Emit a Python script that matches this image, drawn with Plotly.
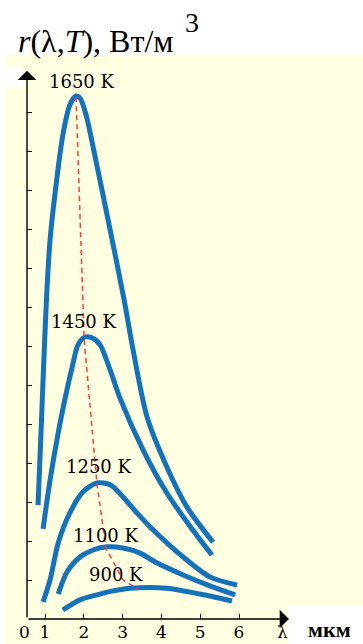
import plotly.graph_objects as go

# curves: wavelength in um, r in tick units (arbitrary)
lam_1650 = [0.82, 0.90, 0.97, 1.05, 1.13, 1.26, 1.46, 1.64, 1.80, 1.90, 2.06, 2.24, 2.68, 3.04, 3.27, 3.63, 4.14, 4.66, 5.33]
r_1650 = [2.92, 4.85, 6.64, 8.44, 9.72, 10.92, 12.41, 13.18, 13.41, 13.36, 12.92, 12.10, 9.97, 8.18, 6.90, 5.18, 3.90, 2.87, 1.97]

lam_1450 = [0.95, 1.13, 1.34, 1.52, 1.70, 1.85, 2.03, 2.21, 2.42, 2.68, 2.93, 3.53, 4.14, 4.81, 5.30]
r_1450 = [2.31, 3.56, 4.77, 5.67, 6.46, 7.03, 7.23, 7.21, 7.03, 6.38, 5.67, 4.33, 3.23, 2.28, 1.64]

lam_1250 = [0.95, 1.13, 1.34, 1.64, 1.98, 2.34, 2.68, 3.01, 3.37, 3.71, 4.56, 5.25, 5.95]
r_1250 = [0.44, 1.00, 1.95, 2.72, 3.26, 3.49, 3.44, 3.13, 2.72, 2.36, 1.59, 1.08, 0.87]

lam_1100 = [1.34, 1.57, 1.90, 2.24, 2.60, 3.01, 3.45, 3.84, 4.56, 5.25, 5.90]
r_1100 = [0.64, 1.21, 1.59, 1.77, 1.85, 1.82, 1.69, 1.46, 1.13, 0.85, 0.62]

lam_900 = [1.46, 1.90, 2.34, 2.75, 3.19, 4.14, 4.99, 5.82]
r_900 = [0.23, 0.49, 0.62, 0.72, 0.79, 0.79, 0.64, 0.46]

# Wien displacement line through the maxima
lam_max = [1.80, 2.01, 2.34, 2.57, 3.01, 3.40]
r_max = [13.38, 7.15, 3.46, 1.82, 1.00, 0.77]

# curve labels
temp_labels = ["1650 K", "1450 K", "1250 K", "1100 K", "900 K"]
label_lam = [1.95, 2.01, 2.39, 2.57, 2.83]
label_r = [13.79, 7.62, 3.90, 2.15, 1.13]

x_ticks = [1, 2, 3, 4, 5, 6]
y_ticks = list(range(1, 14))

cream = "#FFFEE0"
blue = "#1472BA"
serif = "DejaVu Serif, Liberation Serif, serif"
times = "Liberation Serif, Times New Roman, serif"

fig = go.Figure()

curves = [(lam_1650, r_1650), (lam_1450, r_1450), (lam_1250, r_1250), (lam_1100, r_1100), (lam_900, r_900)]
for lam, r in curves:
    fig.add_trace(go.Scatter(x=lam, y=r, mode="lines",
                             line=dict(color=blue, width=5, shape="spline", smoothing=0.8),
                             hoverinfo="skip"))

fig.add_trace(go.Scatter(x=lam_max, y=r_max, mode="lines",
                         line=dict(color="#FF3B3B", width=1.5, dash="5px,4px"),
                         hoverinfo="skip"))

for txt, lx, ly in zip(temp_labels, label_lam, label_r):
    fig.add_annotation(x=lx, y=ly, text=txt, showarrow=False,
                       font=dict(family=serif, size=18, color="black"))

# axes with arrows
fig.add_annotation(x=0, y=1.004, xref="paper", yref="paper", ax=0, ay=548, text="",
                   showarrow=True, arrowhead=1, arrowsize=2.2, arrowwidth=1.4, arrowcolor="black")
fig.add_annotation(x=0.996, y=0, xref="paper", yref="paper", ax=-262, ay=0, text="",
                   showarrow=True, arrowhead=1, arrowsize=2.2, arrowwidth=1.4, arrowcolor="black")

# white areas around the cream background
white = dict(type="rect", xref="paper", yref="paper", fillcolor="white", line_width=0, layer="below")
fig.add_shape(x0=-0.2, x1=1.3, y0=1.033, y1=1.2, **white)
fig.add_shape(x0=-0.2, x1=-0.0837, y0=-0.1, y1=1.2, **white)
fig.add_shape(x0=0.992, x1=1.3, y0=-0.1, y1=0.0256, **white)
fig.add_shape(x0=-0.0837, x1=-0.015, y0=0.973, y1=1.01, **white)

# texts outside the plot area (anchors set explicitly, "auto" shifts paper annotations)
fig.add_annotation(x=-0.04, y=1.058, xref="paper", yref="paper", xanchor="left", yanchor="middle",
                   text="<i>r</i>(λ,<i>T</i>), Вт/м", showarrow=False,
                   font=dict(family=times, size=32, color="black"))
fig.add_annotation(x=0.595, y=1.093, xref="paper", yref="paper", xanchor="left", yanchor="middle",
                   text="3", showarrow=False,
                   font=dict(family=times, size=28, color="black"))
fig.add_annotation(x=-0.008, y=-0.024, xref="paper", yref="paper", xanchor="center", yanchor="middle",
                   text="0", showarrow=False, font=dict(family=serif, size=17, color="black"))
fig.add_annotation(x=0.97, y=-0.024, xref="paper", yref="paper", xanchor="center", yanchor="middle",
                   text="λ", showarrow=False, font=dict(family=serif, size=17, color="black"))
fig.add_annotation(x=1.152, y=-0.02, xref="paper", yref="paper", xanchor="center", yanchor="middle",
                   text="<b>мкм</b>", showarrow=False, font=dict(family=times, size=22, color="black"))

fig.update_xaxes(range=[0.536, 7.314], tickvals=x_ticks, ticks="inside", ticklen=5, tickwidth=1.2,
                 tickcolor="black", showgrid=False, zeroline=False, showline=False, automargin=False,
                 ticklabelstandoff=1, tickfont=dict(family=serif, size=17, color="black"))
fig.update_yaxes(range=[0, 14.0], tickvals=y_ticks, ticks="inside", ticklen=5, tickwidth=1.2,
                 tickcolor="black", showgrid=False, zeroline=False, showline=False, automargin=False,
                 showticklabels=False)

fig.update_layout(width=363, height=644, margin=dict(l=27, r=73, t=73, b=25),
                  paper_bgcolor=cream, plot_bgcolor=cream, showlegend=False)

# page body has a default 8px margin, drop it so the figure sits at the window corner
fig.write_html("out.html", config={"displayModeBar": False},
               post_script="document.body.style.margin='0px';")
